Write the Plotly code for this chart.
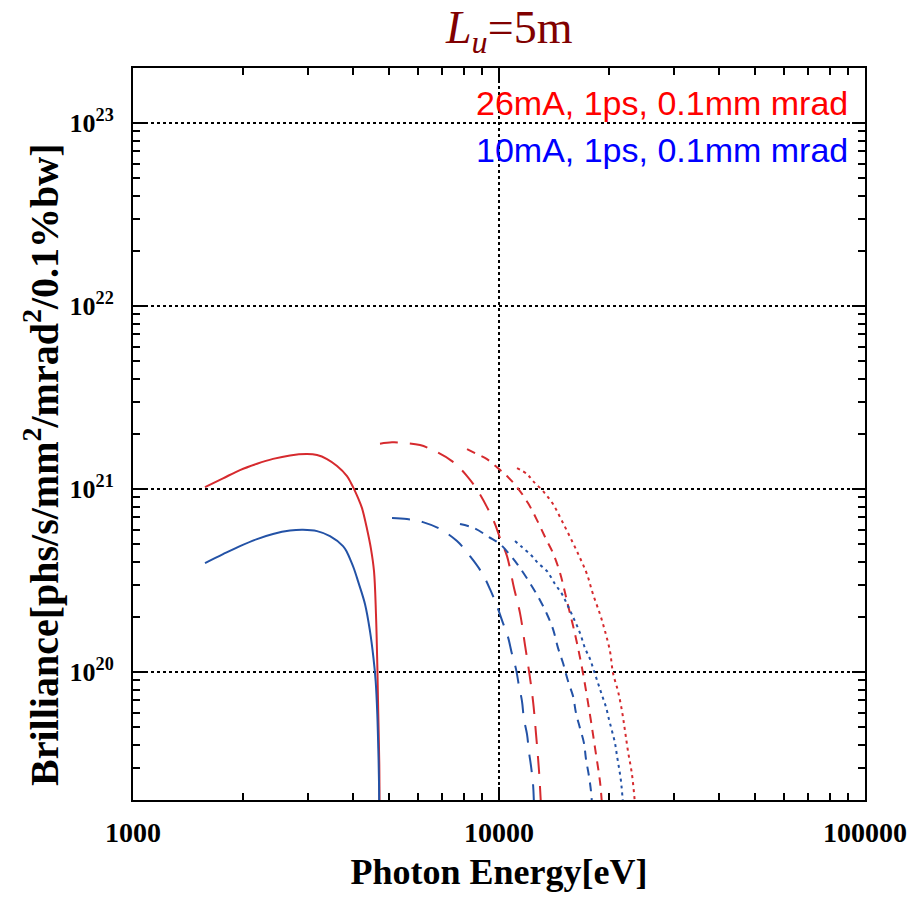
import plotly.graph_objects as go

# ---------------- data ----------------
# 26 mA (red) harmonics: 1st, 3rd, 5th, 7th
E_red1 = [1573, 1762, 1960, 2182, 2413, 2685, 2988, 3183, 3389, 3610, 3843, 3940, 4018, 4119, 4224, 4359, 4470, 4555, 4612, 4650,
          4679, 4709, 4716]
B_red1 = [1.025e21, 1.145e21, 1.27e21, 1.375e21, 1.462e21, 1.527e21, 1.553e21, 1.534e21, 1.458e21, 1.336e21, 1.178e21, 1.08e21,
          1.0e21, 8.95e20, 7.87e20, 6.05e20, 4.70e20, 3.56e20, 2.07e20, 1.106e20, 5.90e19, 3.14e19, 1.5e19]

E_red3 = [4730, 5100, 5466, 6083, 6685, 7439, 8179, 8762, 9273, 9752, 10127, 10517, 10990, 11413, 11777, 12078, 12387, 12623, 12864, 13027]
B_red3 = [1.77e21, 1.80e21, 1.79e21, 1.74e21, 1.613e21, 1.422e21, 1.178e21, 9.75e20, 7.97e20, 6.44e20, 5.20e20, 4.30e20,
          2.88e20, 2.10e20, 1.405e20, 1.013e20, 6.94e19, 4.58e19, 2.88e19, 1.85e19]

E_red5 = [8179, 8598, 9273, 10000, 10517, 11200, 12000, 12700, 13444, 14047, 14680, 15340, 16130, 16860, 17730, 18300, 18880, 19110]
B_red5 = [1.654e21, 1.573e21, 1.458e21, 1.286e21, 1.178e21, 1.025e21, 8.39e20, 6.77e20, 5.33e20, 4.47e20, 3.48e20, 2.44e20,
          1.613e20, 1.052e20, 5.82e19, 3.84e19, 2.51e19, 1.9e19]

E_red7 = [11200, 11926, 12387, 13190, 14047, 14862, 15830, 16650, 17390, 18060, 18880, 19480, 20100, 20490, 21140, 21680, 22100,
          22510, 23080, 23530]
B_red7 = [1.302e21, 1.208e21, 1.106e21, 9.75e20, 8.28e20, 6.69e20, 5.20e20, 4.20e20, 3.43e20, 2.67e20, 2.07e20, 1.675e20,
          1.302e20, 9.87e19, 7.87e19, 6.12e19, 4.76e19, 3.70e19, 2.77e19, 1.9e19]

# 10 mA (blue) harmonics: 1st, 3rd, 5th, 7th
E_blue1 = [1573, 1762, 1960, 2182, 2413, 2685, 2914, 3183, 3453, 3748, 3843, 3940, 4018, 4119, 4305, 4441, 4540, 4603, 4650, 4679,
           4700, 4706]
B_blue1 = [3.94e20, 4.41e20, 4.88e20, 5.33e20, 5.68e20, 5.93e20, 5.99e20, 5.89e20, 5.53e20, 4.88e20, 4.52e20, 4.04e20, 3.66e20,
           3.14e20, 2.35e20, 1.675e20, 1.193e20, 8.93e19, 5.90e19, 3.84e19, 2.54e19, 1.5e19]

E_blue3 = [5102, 5606, 6198, 6902, 7678, 8334, 8985, 9450, 9875, 10254, 10583, 10852, 11130, 11340, 11555, 11700, 11926, 12078,
           12232, 12387, 12460]
B_blue3 = [6.94e20, 6.86e20, 6.60e20, 6.05e20, 5.20e20, 4.30e20, 3.48e20, 2.84e20, 2.29e20, 1.853e20, 1.553e20, 1.254e20,
           1.038e20, 8.39e19, 6.94e19, 5.53e19, 4.58e19, 3.65e19, 3.06e19, 2.44e19, 1.9e19]

E_blue5 = [7824, 8545, 9390, 10063, 10784, 11270, 12155, 12944, 13525, 14047, 14500, 14960, 15437, 15929, 16232, 16643, 17067,
           17283, 17612, 17836, 17950]
B_blue5 = [6.44e20, 6.12e20, 5.47e20, 5.01e20, 4.30e20, 3.84e20, 3.06e20, 2.47e20, 2.07e20, 1.718e20, 1.352e20, 1.120e20,
           8.93e19, 7.39e19, 5.97e19, 4.94e19, 4.09e19, 3.35e19, 2.70e19, 2.24e19, 1.9e19]

E_blue7 = [11060, 11555, 12232, 12785, 13525, 14223, 14862, 15437, 16030, 16650, 17178, 17730, 18180, 18640, 19110, 19600, 19970,
           20360, 20750, 21010, 21280, 21540, 21820]
B_blue7 = [5.20e20, 4.82e20, 4.36e20, 3.94e20, 3.56e20, 3.03e20, 2.67e20, 2.29e20, 1.949e20, 1.633e20, 1.352e20, 1.178e20,
           1.013e20, 8.71e19, 7.49e19, 6.44e19, 5.53e19, 4.76e19, 4.09e19, 3.48e19, 2.99e19, 2.54e19, 1.9e19]

x_tickvals = [1000, 10000, 100000]
x_ticktext = ["1000", "10000", "100000"]
y_tickvals = [1e20, 1e21, 1e22, 1e23]
y_ticktext = ["10<sup>20</sup>", "10<sup>21</sup>", "10<sup>22</sup>", "10<sup>23</sup>"]
x_minor = [m * 10 ** d for d in (3, 4) for m in range(2, 10)]
y_minor = [m * 10.0 ** d for d in (19, 20, 21, 22, 23) for m in range(2, 10)]

legend_labels = ["26mA, 1ps, 0.1mm mrad", "10mA, 1ps, 0.1mm mrad"]

# ---------------- styles ----------------
RED = "#d62a2e"
BLUE = "#2352a6"
SERIF = "Liberation Serif, Times New Roman, serif"
dashes = {1: "solid", 3: "18px,12px", 5: "9px,7px", 7: "3px,4px"}

series = [
    (E_red1, B_red1, RED, 1), (E_red3, B_red3, RED, 3), (E_red5, B_red5, RED, 5), (E_red7, B_red7, RED, 7),
    (E_blue1, B_blue1, BLUE, 1), (E_blue3, B_blue3, BLUE, 3), (E_blue5, B_blue5, BLUE, 5), (E_blue7, B_blue7, BLUE, 7),
]

fig = go.Figure()
for xs, ys, col, h in series:
    fig.add_trace(go.Scatter(
        x=xs, y=ys, mode="lines",
        line=dict(color=col, width=2, dash=dashes[h], shape="spline", smoothing=1.0),
        showlegend=False, hoverinfo="skip",
    ))

axis_common = dict(
    type="log", automargin=False,
    showline=True, linecolor="black", linewidth=2, mirror="ticks",
    ticks="inside", ticklen=13, tickwidth=2, tickcolor="black",
    showgrid=True, gridcolor="black", gridwidth=1.5, griddash="dot",
    zeroline=False,
)

fig.update_xaxes(
    **axis_common,
    range=[3, 5],
    tickvals=x_tickvals, ticktext=["<b>" + t + "</b>" for t in x_ticktext],
    tickfont=dict(family=SERIF, size=28, color="black"),
    ticklabelstandoff=6,
    minor=dict(tickmode="array", tickvals=x_minor, ticks="inside", ticklen=7, tickwidth=2,
               tickcolor="black", showgrid=False),
    title=dict(text="<b>Photon Energy[eV]</b>", font=dict(family=SERIF, size=36, color="black"), standoff=12),
)
fig.update_yaxes(
    **axis_common,
    range=[19.301, 23.301],
    tickvals=y_tickvals, ticktext=["<b>" + t + "</b>" for t in y_ticktext],
    tickfont=dict(family=SERIF, size=26, color="black"),
    ticklabelstandoff=12,
    minor=dict(tickmode="array", tickvals=y_minor, ticks="inside", ticklen=7, tickwidth=2,
               tickcolor="black", showgrid=False),
)

# y-axis title (placed as in the reference, slightly below the plot centre)
fig.add_annotation(
    text="<b>Brilliance[phs/s/mm<sup>2</sup>/mrad<sup>2</sup>/0.1%bw]</b>",
    xref="paper", yref="paper", x=-0.124, y=0.458, textangle=-90,
    xanchor="center", yanchor="middle", showarrow=False,
    font=dict(family=SERIF, size=40, color="black"),
)
# title
fig.add_annotation(
    text="<i>L</i><sub><i>u</i></sub>=5m", xref="paper", yref="paper", x=0.514, y=1.051,
    xanchor="center", yanchor="middle", showarrow=False,
    font=dict(family=SERIF, size=46, color="#800000"),
)
# legend text
for i, (lab, col) in enumerate(zip(legend_labels, ["#ff0000", "#0000ff"])):
    fig.add_annotation(
        text=lab, xref="paper", yref="paper", x=1, y=[0.952, 0.888][i],
        xanchor="right", yanchor="middle", xshift=-15, showarrow=False,
        font=dict(family="Liberation Sans, Arial, sans-serif", size=34, color=col),
    )

fig.update_layout(
    width=909, height=897,
    margin=dict(l=133, r=44, t=68, b=97),
    paper_bgcolor="white", plot_bgcolor="white",
    showlegend=False,
)

fig.write_html("out.html")
